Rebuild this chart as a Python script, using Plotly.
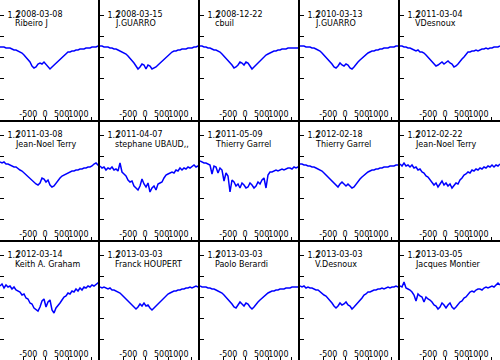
import plotly.graph_objects as go
from plotly.subplots import make_subplots

velocity = [-1350, -1290, -1230, -1170, -1110, -1050, -990, -930, -870, -810,
            -750, -690, -630, -570, -510, -450, -390, -330, -270, -210,
            -150, -90, -30, 30, 90, 150, 210, 270, 330, 390,
            450, 510, 570, 630, 690, 750, 810, 870, 930, 990,
            1050, 1110, 1170, 1230, 1290, 1350, 1410, 1470, 1530, 1590, 1650]

dates = ["2008-03-08", "2008-03-15", "2008-12-22", "2010-03-13", "2011-03-04",
         "2011-03-08", "2011-04-07", "2011-05-09", "2012-02-18", "2012-02-22",
         "2012-03-14", "2013-03-03", "2013-03-03", "2013-03-03", "2013-03-05"]

observers = ["Ribeiro J", "J.GUARRO", "cbuil", "J.GUARRO", "VDesnoux",
             "Jean-Noel Terry", "stephane UBAUD,,", "Thierry Garrel", "Thierry Garrel", "Jean-Noel Terry",
             "Keith A. Graham", "Franck HOUPERT", "Paolo Berardi", "V.Desnoux", "Jacques Montier"]

flux_ribeiro_20080308 = [0.88,0.88,0.88,0.87,0.87,0.87,0.86,0.85,0.85,0.84, 0.83,0.82,0.80,0.78,0.76,0.73,0.69,0.67,0.68,0.71, 0.72,0.71,0.73,0.71,0.68,0.66,0.68,0.70,0.72,0.73, 0.75,0.77,0.79,0.81,0.83,0.83,0.84,0.84,0.85,0.85, 0.86,0.86,0.86,0.87,0.87,0.87,0.88,0.88,0.88,0.89,0.89]
flux_guarro_20080315 = [0.89,0.89,0.88,0.88,0.88,0.87,0.87,0.86,0.86,0.85, 0.84,0.83,0.82,0.81,0.79,0.77,0.75,0.72,0.69,0.66, 0.68,0.71,0.70,0.66,0.70,0.69,0.66,0.67,0.68,0.70, 0.72,0.74,0.76,0.78,0.80,0.82,0.83,0.84,0.84,0.85, 0.85,0.86,0.86,0.86,0.87,0.87,0.87,0.88,0.88,0.89,0.89]
flux_cbuil_20081222 = [0.89,0.89,0.88,0.88,0.87,0.87,0.86,0.85,0.85,0.84, 0.83,0.81,0.79,0.77,0.75,0.73,0.70,0.67,0.68,0.70, 0.73,0.72,0.70,0.73,0.72,0.69,0.66,0.68,0.70,0.73, 0.75,0.77,0.79,0.80,0.81,0.82,0.83,0.84,0.84,0.85, 0.85,0.86,0.86,0.86,0.87,0.87,0.87,0.87,0.87,0.87,0.88]
flux_guarro_20100313 = [0.89,0.89,0.89,0.88,0.88,0.88,0.87,0.87,0.86,0.85, 0.84,0.82,0.80,0.78,0.76,0.74,0.71,0.68,0.67,0.69, 0.72,0.70,0.69,0.71,0.70,0.67,0.66,0.68,0.71,0.73, 0.75,0.77,0.79,0.81,0.82,0.83,0.84,0.84,0.85,0.85, 0.86,0.86,0.87,0.87,0.87,0.88,0.88,0.88,0.89,0.89,0.89]
flux_vdesnoux_20110304 = [0.89,0.89,0.88,0.88,0.87,0.87,0.86,0.85,0.84,0.85, 0.83,0.83,0.82,0.80,0.78,0.75,0.73,0.71,0.69,0.70, 0.72,0.73,0.71,0.73,0.74,0.72,0.71,0.68,0.69,0.71, 0.74,0.76,0.78,0.81,0.83,0.83,0.84,0.84,0.85,0.84, 0.85,0.86,0.86,0.87,0.86,0.87,0.87,0.88,0.88,0.88,0.89]
flux_terry_20110308 = [0.93,0.92,0.93,0.91,0.91,0.90,0.89,0.88,0.88,0.86, 0.85,0.84,0.82,0.80,0.79,0.77,0.75,0.73,0.71,0.70, 0.72,0.77,0.76,0.73,0.75,0.70,0.68,0.69,0.72,0.74, 0.77,0.79,0.80,0.81,0.82,0.83,0.84,0.84,0.85,0.85, 0.86,0.86,0.87,0.87,0.88,0.88,0.89,0.91,0.92,0.90,0.91]
flux_ubaud_20110407 = [0.89,0.87,0.88,0.85,0.87,0.86,0.88,0.85,0.86,0.84, 0.92,0.83,0.81,0.79,0.75,0.73,0.74,0.69,0.67,0.65, 0.69,0.76,0.71,0.68,0.72,0.63,0.67,0.69,0.65,0.71, 0.72,0.73,0.77,0.80,0.81,0.82,0.83,0.82,0.85,0.84, 0.87,0.85,0.87,0.86,0.88,0.87,0.89,0.90,0.88,0.89,0.87]
flux_garrel_20110509 = [0.94,0.93,0.92,0.92,0.91,0.90,0.81,0.89,0.88,0.82, 0.87,0.85,0.74,0.82,0.79,0.63,0.75,0.73,0.69,0.71, 0.67,0.72,0.70,0.67,0.68,0.72,0.70,0.67,0.69,0.73, 0.71,0.75,0.77,0.67,0.80,0.83,0.83,0.84,0.85,0.84, 0.85,0.86,0.85,0.86,0.87,0.87,0.86,0.88,0.87,0.88,0.89]
flux_garrel_20120218 = [0.91,0.91,0.90,0.90,0.89,0.89,0.88,0.88,0.87,0.86, 0.85,0.84,0.82,0.80,0.78,0.76,0.73,0.71,0.69,0.68, 0.71,0.73,0.71,0.69,0.71,0.69,0.67,0.68,0.71,0.74, 0.76,0.78,0.80,0.82,0.83,0.84,0.85,0.85,0.86,0.86, 0.87,0.87,0.88,0.88,0.88,0.89,0.89,0.89,0.90,0.90,0.90]
flux_terry_20120222 = [0.91,0.89,0.92,0.89,0.90,0.88,0.90,0.87,0.88,0.85, 0.86,0.83,0.82,0.79,0.78,0.75,0.73,0.70,0.72,0.68, 0.71,0.74,0.70,0.72,0.69,0.71,0.67,0.69,0.72,0.71, 0.75,0.77,0.80,0.81,0.83,0.82,0.85,0.84,0.86,0.85, 0.87,0.86,0.88,0.87,0.89,0.88,0.90,0.88,0.90,0.89,0.91]
flux_graham_20120314 = [0.89,0.91,0.87,0.90,0.88,0.89,0.86,0.88,0.85,0.84, 0.83,0.80,0.81,0.77,0.76,0.72,0.71,0.67,0.65,0.64, 0.68,0.74,0.76,0.68,0.73,0.75,0.65,0.62,0.67,0.69, 0.72,0.75,0.78,0.79,0.82,0.81,0.84,0.83,0.86,0.84, 0.87,0.85,0.88,0.87,0.89,0.88,0.90,0.89,0.91,0.92,0.91]
flux_houpert_20130303 = [0.88,0.87,0.88,0.87,0.86,0.87,0.85,0.85,0.84,0.83, 0.82,0.80,0.78,0.76,0.74,0.72,0.70,0.67,0.66,0.68, 0.71,0.69,0.72,0.69,0.70,0.67,0.65,0.67,0.69,0.71, 0.73,0.75,0.78,0.80,0.81,0.82,0.83,0.84,0.84,0.85, 0.85,0.86,0.86,0.87,0.87,0.88,0.87,0.88,0.89,0.88,0.89]
flux_berardi_20130303 = [0.89,0.88,0.88,0.88,0.87,0.87,0.86,0.86,0.85,0.84, 0.83,0.82,0.80,0.78,0.76,0.74,0.71,0.68,0.67,0.70, 0.73,0.71,0.69,0.72,0.71,0.68,0.66,0.68,0.71,0.73, 0.75,0.77,0.79,0.81,0.82,0.83,0.84,0.84,0.85,0.85, 0.86,0.86,0.86,0.87,0.87,0.87,0.88,0.88,0.88,0.88,0.89]
flux_vdesnoux_20130303 = [0.89,0.88,0.89,0.87,0.88,0.87,0.87,0.86,0.85,0.85, 0.83,0.82,0.80,0.79,0.77,0.74,0.72,0.69,0.67,0.69, 0.72,0.70,0.71,0.73,0.70,0.69,0.66,0.68,0.70,0.73, 0.75,0.77,0.80,0.81,0.83,0.83,0.84,0.85,0.85,0.86, 0.86,0.87,0.86,0.87,0.88,0.87,0.88,0.88,0.89,0.88,0.89]
flux_montier_20130305 = [0.89,0.88,0.93,0.87,0.86,0.85,0.83,0.80,0.74,0.81, 0.79,0.78,0.73,0.78,0.76,0.75,0.73,0.70,0.69,0.66, 0.68,0.72,0.70,0.67,0.70,0.72,0.68,0.66,0.68,0.71, 0.73,0.74,0.77,0.78,0.81,0.83,0.84,0.83,0.85,0.86, 0.86,0.85,0.87,0.88,0.87,0.88,0.89,0.88,0.90,0.92,0.90]

spectra = [flux_ribeiro_20080308, flux_guarro_20080315, flux_cbuil_20081222, flux_guarro_20100313, flux_vdesnoux_20110304,
           flux_terry_20110308, flux_ubaud_20110407, flux_garrel_20110509, flux_garrel_20120218, flux_terry_20120222,
           flux_graham_20120314, flux_houpert_20130303, flux_berardi_20130303, flux_vdesnoux_20130303, flux_montier_20130305]

x_tick_values = [-500, 0, 500, 1000]
x_tick_labels = ["-500", "0", "500", "1000"]
y_tick_values = [1.2, 0.99, 0.78, 0.57, 0.36]
y_tick_labels = ["1.2", "", "", "", ""]

ROWS, COLS = 3, 5
fig = make_subplots(rows=ROWS, cols=COLS, horizontal_spacing=0, vertical_spacing=0)

FONT = "DejaVu Sans"
for i, flux in enumerate(spectra):
    r, c = i // COLS + 1, i % COLS + 1
    fig.add_trace(go.Scatter(x=velocity, y=flux, mode="lines",
                             line=dict(color="#0000ff", width=1.5),
                             showlegend=False, hoverinfo="skip"), row=r, col=c)
    n = "" if i == 0 else str(i + 1)
    fig.add_annotation(xref=f"x{n} domain", yref=f"y{n} domain", x=0.14, y=1 - 14 / 120,
                       text=dates[i], showarrow=False, xanchor="left", yanchor="middle",
                       font=dict(family=FONT, size=8, color="#000000"))
    fig.add_annotation(xref=f"x{n} domain", yref=f"y{n} domain", x=0.13, y=1 - 24 / 120,
                       text=observers[i], showarrow=False, xanchor="left", yanchor="middle",
                       font=dict(family=FONT, size=8, color="#000000"))

fig.update_xaxes(range=[-1350, 1650], tickmode="array", tickvals=x_tick_values, ticktext=x_tick_labels,
                 ticks="", ticklabelposition="inside", tickangle=0, automargin=False,
                 minor=dict(ticks="inside", ticklen=3, tickmode="linear", tick0=-1000, dtick=343,
                            tickcolor="black", tickwidth=1, showgrid=False),
                 showline=True, linecolor="black", linewidth=2, mirror=False,
                 showgrid=False, zeroline=False,
                 tickfont=dict(family=FONT, size=8, color="#000000"))
fig.update_yaxes(range=[0.15, 1.35], tickmode="array", tickvals=y_tick_values, ticktext=y_tick_labels,
                 ticks="inside", ticklen=4, tickcolor="black", ticklabelposition="inside",
                 ticklabelstandoff=2, automargin=False,
                 showline=True, linecolor="black", linewidth=2, mirror=False,
                 showgrid=False, zeroline=False,
                 tickfont=dict(family=FONT, size=8, color="#000000"))

fig.update_layout(width=500, height=360, margin=dict(l=0, r=0, t=0, b=0),
                  paper_bgcolor="white", plot_bgcolor="white")

fig.write_html("out.html", config={"displayModeBar": False},
               post_script="document.body.style.margin='0';document.body.style.padding='0';"
                           "document.body.style.overflow='hidden';")
